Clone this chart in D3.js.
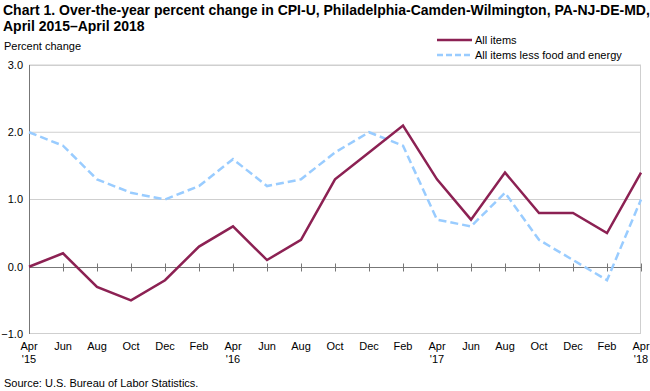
<!DOCTYPE html>
<html>
<head>
<meta charset="utf-8">
<script src="https://cdn.jsdelivr.net/npm/d3@7"></script>
<style>
  body { margin: 0; background: #fff; }
  svg { display: block; font-family: "Liberation Sans", Arial, sans-serif; }
</style>
</head>
<body>
<div id="chart"></div>
<script>
const months = ["Apr", "Jun", "Aug", "Oct", "Dec", "Feb", "Apr", "Jun", "Aug", "Oct",
  "Dec", "Feb", "Apr", "Jun", "Aug", "Oct", "Dec", "Feb", "Apr"];
const years = ["'15", "", "", "", "", "", "'16", "", "", "", "", "", "'17", "", "", "", "", "", "'18"];
const allItems = [0.0, 0.2, -0.3, -0.5, -0.2, 0.3, 0.6, 0.1, 0.4, 1.3, 1.7, 2.1, 1.3, 0.7, 1.4, 0.8, 0.8, 0.5, 1.4];
const coreItems = [2.0, 1.8, 1.3, 1.1, 1.0, 1.2, 1.6, 1.2, 1.3, 1.7, 2.0, 1.8, 0.7, 0.6, 1.1, 0.4, 0.1, -0.2, 1.0];
const yTicks = [-1.0, 0.0, 1.0, 2.0, 3.0];

const width = 650, height = 391;
const margin = { top: 65, right: 9, bottom: 57, left: 29 };
const innerW = width - margin.left - margin.right;
const innerH = height - margin.top - margin.bottom;

const svg = d3.select("#chart").append("svg")
  .attr("width", width)
  .attr("height", height);

// title
svg.append("text").attr("x", 3).attr("y", 15)
  .style("font-size", "14px").style("font-weight", "bold").attr("fill", "#000")
  .text("Chart 1. Over-the-year percent change in CPI-U, Philadelphia-Camden-Wilmington, PA-NJ-DE-MD,");
svg.append("text").attr("x", 3).attr("y", 31)
  .style("font-size", "14px").style("font-weight", "bold").attr("fill", "#000")
  .text("April 2015\u2013April 2018");

svg.append("text").attr("x", 4).attr("y", 50)
  .style("font-size", "11px").attr("fill", "#000")
  .text("Percent change");

const g = svg.append("g").attr("transform", `translate(${margin.left},${margin.top})`);

const x = d3.scaleLinear().domain([0, months.length - 1]).range([0, innerW]);
const y = d3.scaleLinear().domain([-1, 3]).range([innerH, 0]);

// gridlines
g.selectAll(".grid").data(yTicks.filter(d => d !== 0 && d !== -1))
  .enter().append("line")
  .attr("x1", 0).attr("x2", innerW)
  .attr("y1", d => y(d)).attr("y2", d => y(d))
  .attr("stroke", "#cfcfcf").attr("stroke-width", 1);

// frame: top/right light, left darker
g.append("line").attr("x1", 0).attr("x2", innerW).attr("y1", 0.5).attr("y2", 0.5)
  .attr("stroke", "#cfcfcf");
g.append("line").attr("x1", innerW - 0.5).attr("x2", innerW - 0.5).attr("y1", 0).attr("y2", innerH)
  .attr("stroke", "#cfcfcf");
g.append("line").attr("x1", 0).attr("x2", innerW).attr("y1", innerH - 0.5).attr("y2", innerH - 0.5)
  .attr("stroke", "#cfcfcf");
g.append("line").attr("x1", 0.5).attr("x2", 0.5).attr("y1", 0).attr("y2", innerH)
  .attr("stroke", "#777");

// y tick labels
g.selectAll(".ylab").data(yTicks).enter().append("text")
  .attr("x", -6).attr("y", d => y(d)).attr("dy", "0.35em")
  .attr("text-anchor", "end")
  .style("font-size", "11px").attr("fill", "#000")
  .text(d => d3.format(".1f")(d));

// zero axis with ticks crossing
const zeroAxis = g.append("g").attr("transform", `translate(0,${Math.round(y(0)) + 0.5})`);
zeroAxis.append("line").attr("x1", 0).attr("x2", innerW).attr("stroke", "#777");
zeroAxis.selectAll(".tk").data(d3.range(1, months.length)).enter().append("line")
  .attr("x1", d => Math.round(x(d)) + 0.5).attr("x2", d => Math.round(x(d)) + 0.5)
  .attr("y1", -4).attr("y2", 4)
  .attr("stroke", "#777");

// x labels
const xl = g.selectAll(".xlab").data(months).enter().append("text")
  .attr("x", (d, i) => x(i)).attr("y", innerH + 16)
  .attr("text-anchor", "middle")
  .style("font-size", "11px").attr("fill", "#000");
xl.append("tspan").attr("x", (d, i) => x(i)).text(d => d);
xl.append("tspan").attr("x", (d, i) => x(i)).attr("dy", 13).text((d, i) => years[i]);

// lines
const line = d3.line().x((d, i) => x(i)).y(d => y(d));
g.append("path").datum(coreItems)
  .attr("d", line).attr("fill", "none")
  .attr("stroke", "#99ccff").attr("stroke-width", 2.5)
  .attr("stroke-dasharray", "8,4");
g.append("path").datum(allItems)
  .attr("d", line).attr("fill", "none")
  .attr("stroke", "#8c2153").attr("stroke-width", 2.5);

// legend
const legend = svg.append("g");
const legendItems = [
  { name: "All items", color: "#8c2153", dash: null, y: 40 },
  { name: "All items less food and energy", color: "#99ccff", dash: "6,3", y: 55 }
];
legendItems.forEach(d => {
  legend.append("line").attr("x1", 437).attr("x2", 472).attr("y1", d.y).attr("y2", d.y)
    .attr("stroke", d.color).attr("stroke-width", 2.5)
    .attr("stroke-dasharray", d.dash);
  legend.append("text").attr("x", 475).attr("y", d.y).attr("dy", "0.35em")
    .style("font-size", "11px").attr("fill", "#000").text(d.name);
});

svg.append("text").attr("x", 4).attr("y", 387)
  .style("font-size", "11px").attr("fill", "#000")
  .text("Source: U.S. Bureau of Labor Statistics.");
</script>
</body>
</html>
